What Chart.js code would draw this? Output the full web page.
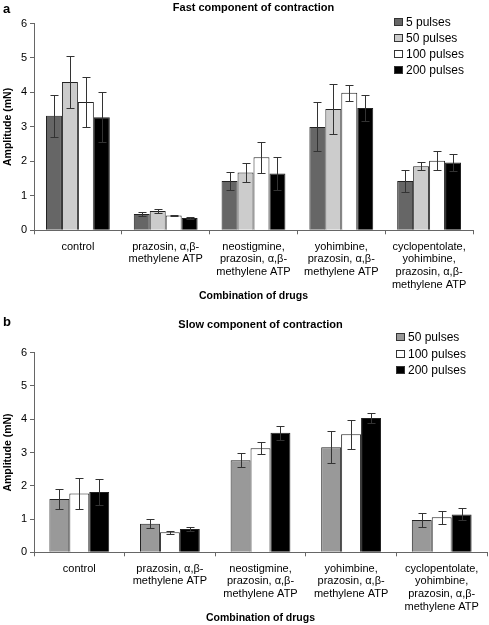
<!DOCTYPE html>
<html>
<head>
<meta charset="utf-8">
<script src="https://cdn.jsdelivr.net/npm/chart.js@4.4.0/dist/chart.umd.min.js"></script>
<style>
  body { margin: 0; background: #fff; font-family: "Liberation Sans", Arial, sans-serif; }
  #wrap { position: relative; width: 489px; height: 625px; }
  .panel { position: absolute; left: 3px; font-weight: bold; font-size: 13px; line-height: 14px; }
  canvas { position: absolute; left: 0; }
</style>
</head>
<body>
<div id="wrap">
  <canvas id="fast" width="489" height="305" style="top:0"></canvas>
  <canvas id="slow" width="489" height="320" style="top:305px"></canvas>
  <div class="panel" style="top:2px">a</div>
  <div class="panel" style="top:315px">b</div>
</div>
<script>
// categories (multi-line tick labels)
const drugs = [
  ['control'],
  ['prazosin, α,β-', 'methylene ATP'],
  ['neostigmine,', 'prazosin, α,β-', 'methylene ATP'],
  ['yohimbine,', 'prazosin, α,β-', 'methylene ATP'],
  ['cyclopentolate,', 'yohimbine,', 'prazosin, α,β-', 'methylene ATP']
];

// (a) fast component, mean and error
const fast5 = [3.32, 0.47, 1.43, 3.00, 1.43];
const fast5Err = [0.60, 0.06, 0.26, 0.71, 0.32];
const fast50 = [4.30, 0.56, 1.68, 3.52, 1.86];
const fast50Err = [0.76, 0.07, 0.27, 0.72, 0.11];
const fast100 = [3.72, 0.43, 2.12, 3.99, 2.02];
const fast100Err = [0.72, 0.02, 0.45, 0.24, 0.27];
const fast200 = [3.28, 0.36, 1.65, 3.55, 1.97];
const fast200Err = [0.73, 0.02, 0.47, 0.37, 0.24];

// (b) slow component
const slow50 = [1.60, 0.86, 2.77, 3.16, 0.97];
const slow50Err = [0.30, 0.13, 0.20, 0.49, 0.20];
const slow100 = [1.77, 0.60, 3.13, 3.55, 1.05];
const slow100Err = [0.46, 0.05, 0.18, 0.43, 0.20];
const slow200 = [1.81, 0.70, 3.59, 4.04, 1.14];
const slow200Err = [0.38, 0.05, 0.21, 0.16, 0.18];

const yMin = 0, yMax = 6, yStep = 1;

Chart.defaults.font.family = '"Liberation Sans", Arial, sans-serif';
Chart.defaults.color = '#000';

// error bars, title and legend
const decor = {
  id: 'decor',
  afterDatasetsDraw(chart) {
    const ctx = chart.ctx, y = chart.scales.y;
    ctx.save();
    ctx.strokeStyle = '#333';
    ctx.lineWidth = 1;
    chart.data.datasets.forEach((ds, i) => {
      chart.getDatasetMeta(i).data.forEach((bar, j) => {
        const v = ds.data[j], e = ds.err[j];
        const x = Math.round(bar.x) + 0.5;
        const t = Math.round(y.getPixelForValue(v + e)) + 0.5;
        const b = Math.round(y.getPixelForValue(v - e)) + 0.5;
        ctx.beginPath();
        ctx.moveTo(x, t); ctx.lineTo(x, b);
        ctx.moveTo(x - 4, t); ctx.lineTo(x + 4, t);
        ctx.moveTo(x - 4, b); ctx.lineTo(x + 4, b);
        ctx.stroke();
      });
    });
    ctx.restore();
  },
  afterDraw(chart, args, opts) {
    const ctx = chart.ctx, a = chart.chartArea;
    ctx.save();
    ctx.fillStyle = '#000';
    ctx.textBaseline = 'middle';
    ctx.textAlign = 'center';
    ctx.font = 'bold 11px "Liberation Sans", Arial, sans-serif';
    ctx.fillText(opts.title, (a.left + a.right) / 2, opts.titleY);
    ctx.textAlign = 'left';
    ctx.font = '12px "Liberation Sans", Arial, sans-serif';
    chart.data.datasets.forEach((ds, i) => {
      const yy = Math.round(opts.legY + i * opts.legStep);
      ctx.fillStyle = ds.backgroundColor;
      ctx.fillRect(opts.legX, yy - 4, 9, 8);
      ctx.strokeStyle = '#333';
      ctx.strokeRect(opts.legX + 0.5, yy - 3.5, 8, 7);
      ctx.fillStyle = '#000';
      ctx.fillText(ds.label, opts.legX + 12, yy + 0.5);
    });
    ctx.restore();
  }
};

function makeScales(xHeight, xTitlePad) {
  return {
    x: {
      offset: true,
      grid: { drawOnChartArea: false, drawTicks: true, tickLength: 4, color: '#666', offset: true },
      border: { color: '#666' },
      ticks: { font: { size: 11, lineHeight: 1.15 }, color: '#000', padding: 6, maxRotation: 0, autoSkip: false },
      title: { display: true, text: 'Combination of drugs', color: '#000',
               font: { size: 10.5, weight: 'bold' }, padding: { top: 2, bottom: xTitlePad } },
      afterFit: s => { s.height = xHeight; }
    },
    y: {
      min: yMin, max: yMax,
      grid: { drawOnChartArea: false, drawTicks: true, tickLength: 4, color: '#666' },
      border: { color: '#666' },
      ticks: { stepSize: yStep, font: { size: 11 }, color: '#000', padding: 3 },
      title: { display: true, text: 'Amplitude (mN)', color: '#000',
               font: { size: 10.5, weight: 'bold' }, padding: { top: 1.5, bottom: 0 } },
      afterFit: s => { s.width = 34; }
    }
  };
}

function bar(label, data, err, color) {
  return { label, data, err, backgroundColor: color, borderColor: '#222', borderWidth: 1,
           categoryPercentage: 1, barPercentage: 1 };
}

new Chart(document.getElementById('fast'), {
  type: 'bar',
  data: {
    labels: drugs,
    datasets: [
      bar('5 pulses', fast5, fast5Err, '#666666'),
      bar('50 pulses', fast50, fast50Err, '#cccccc'),
      bar('100 pulses', fast100, fast100Err, '#ffffff'),
      bar('200 pulses', fast200, fast200Err, '#000000')
    ].map(d => Object.assign(d, { categoryPercentage: 0.727 }))
  },
  options: {
    responsive: false,
    animation: false,
    layout: { padding: { top: 23.5, right: 16, left: 0, bottom: 0 } },
    plugins: {
      legend: { display: false },
      tooltip: { enabled: false },
      decor: { title: 'Fast component of contraction', titleY: 7.5, legX: 394, legY: 21.7, legStep: 16.2 }
    },
    scales: makeScales(74.7, 3)
  },
  plugins: [decor]
});

new Chart(document.getElementById('slow'), {
  type: 'bar',
  data: {
    labels: drugs,
    datasets: [
      bar('50 pulses', slow50, slow50Err, '#999999'),
      bar('100 pulses', slow100, slow100Err, '#ffffff'),
      bar('200 pulses', slow200, slow200Err, '#000000')
    ].map(d => Object.assign(d, { categoryPercentage: 0.66 }))
  },
  options: {
    responsive: false,
    animation: false,
    layout: { padding: { top: 47.7, right: 2, left: 0, bottom: 0 } },
    plugins: {
      legend: { display: false },
      tooltip: { enabled: false },
      decor: { title: 'Slow component of contraction', titleY: 20, legX: 396, legY: 32.3, legStep: 16.3 }
    },
    scales: makeScales(72.7, 0.7)
  },
  plugins: [decor]
});
</script>
</body>
</html>
